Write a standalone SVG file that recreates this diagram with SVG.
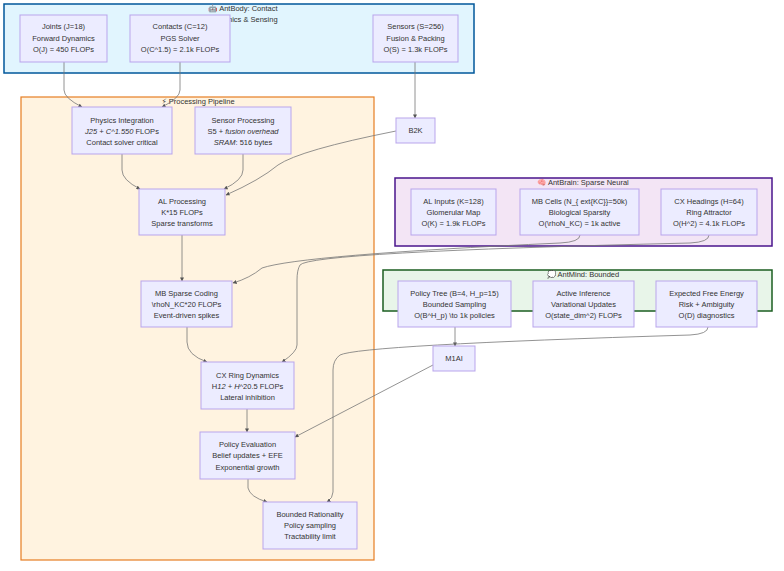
<svg xmlns="http://www.w3.org/2000/svg" width="784" height="571" viewBox="0 0 784 571">
<style>
text{font-family:"Liberation Sans","DejaVu Sans",sans-serif;font-size:7.5px;fill:#333;text-anchor:middle}
.n{fill:#ececff;stroke:#b9a5ec;stroke-width:1}
.e{fill:none;stroke:#777;stroke-width:0.8;marker-end:url(#a)}
i{font-style:italic}
</style>
<defs><marker id="a" viewBox="0 0 10 10" refX="9" refY="5" markerWidth="5" markerHeight="5" orient="auto"><path d="M0,0L10,5L0,10z" fill="#555"/></marker></defs>
<rect x="0" y="0" width="784" height="571" fill="#fff"/>
<g id="body"><rect x="4" y="4" width="470" height="69" fill="#e1f5fe" stroke="#01579b" stroke-width="1.5"/><text x="243" y="11">🤖 AntBody: Contact</text><text x="243" y="22">Dynamics &amp; Sensing</text></g>
<g id="pipeline"><rect x="21" y="97" width="353" height="463" fill="#fff3e0" stroke="#e67e22" stroke-width="1.2"/><text x="198" y="104">⚡ Processing Pipeline</text></g>
<g id="brain"><rect x="395" y="178" width="377" height="68" fill="#f3e5f5" stroke="#4a148c" stroke-width="1.5"/><text x="583" y="185">🧠 AntBrain: Sparse Neural</text></g>
<g id="mind"><rect x="383" y="270" width="389" height="41" fill="#e8f5e9" stroke="#1b5e20" stroke-width="1.5"/><text x="583" y="277">💭 AntMind: Bounded</text></g>
<g id="edges">
<path class="e" d="M64,62V90Q64,98 82,107"/>
<path class="e" d="M180,62V90Q180,98 162,107"/>
<path class="e" d="M415,62V118"/>
<path class="e" d="M396,131Q300,150 278,165Q260,180 226,195"/>
<path class="e" d="M122,154V170Q122,180 140,189"/>
<path class="e" d="M243,154V170Q243,180 224,189"/>
<path class="e" d="M182,235V281"/>
<path class="e" d="M580,235Q580,242 560,243Q300,255 262,268Q250,278 233,283"/>
<path class="e" d="M709,235Q709,242 690,243Q310,252 300,265Q297,270 297,280V345Q297,352 282,362"/>
<path class="e" d="M187,327V342Q187,355 207,362"/>
<path class="e" d="M247,409V432"/>
<path class="e" d="M455,327V346"/>
<path class="e" d="M433,365L295,437"/>
<path class="e" d="M708,327Q708,334 690,335Q360,345 340,355Q333,360 333,370V492Q333,498 327,502"/>
<path class="e" d="M248,479V488Q250,497 267,502"/>
</g>
<g id="joints"><rect class="n" x="20" y="15" width="87" height="47"/><text x="63.5" y="29">Joints (J=18)</text><text x="63.5" y="41">Forward Dynamics</text><text x="63.5" y="52">O(J) = 450 FLOPs</text></g>
<g id="contacts"><rect class="n" x="130" y="15" width="100" height="47"/><text x="180" y="29">Contacts (C=12)</text><text x="180" y="41">PGS Solver</text><text x="180" y="52">O(C^1.5) = 2.1k FLOPs</text></g>
<g id="sensors"><rect class="n" x="373" y="15" width="85" height="47"/><text x="415.5" y="29">Sensors (S=256)</text><text x="415.5" y="41">Fusion &amp; Packing</text><text x="415.5" y="52">O(S) = 1.3k FLOPs</text></g>
<g id="physics"><rect class="n" x="72" y="107" width="100" height="47"/><text x="122" y="123">Physics Integration</text><text x="122" y="134"><tspan font-style="italic">J25 + C^1.550</tspan> FLOPs</text><text x="122" y="145">Contact solver critical</text></g>
<g id="sensorproc"><rect class="n" x="195" y="107" width="96" height="47"/><text x="243" y="123">Sensor Processing</text><text x="243" y="134">S5 + <tspan font-style="italic">fusion overhead</tspan></text><text x="243" y="145"><tspan font-style="italic">SRAM</tspan>: 516 bytes</text></g>
<g id="b2k"><rect class="n" x="396" y="118" width="39" height="25"/><text x="415.5" y="133">B2K</text></g>
<g id="al"><rect class="n" x="139" y="189" width="86" height="46"/><text x="182" y="204">AL Processing</text><text x="182" y="215">K*15 FLOPs</text><text x="182" y="226">Sparse transforms</text></g>
<g id="mb"><rect class="n" x="141" y="281" width="91" height="46"/><text x="186.5" y="296">MB Sparse Coding</text><text x="186.5" y="307">\rhoN_KC*20 FLOPs</text><text x="186.5" y="318">Event-driven spikes</text></g>
<g id="cx"><rect class="n" x="201" y="362" width="93" height="47"/><text x="247.5" y="378">CX Ring Dynamics</text><text x="247.5" y="389">H<tspan font-style="italic">12 + H</tspan>^20.5 FLOPs</text><text x="247.5" y="400">Lateral inhibition</text></g>
<g id="policyeval"><rect class="n" x="200" y="432" width="95" height="47"/><text x="247.5" y="447">Policy Evaluation</text><text x="247.5" y="458">Belief updates + EFE</text><text x="247.5" y="470">Exponential growth</text></g>
<g id="bounded"><rect class="n" x="263" y="502" width="94" height="47"/><text x="310" y="517">Bounded Rationality</text><text x="310" y="528">Policy sampling</text><text x="310" y="539">Tractability limit</text></g>
<g id="alinputs"><rect class="n" x="411" y="189" width="85" height="46"/><text x="453.5" y="204">AL Inputs (K=128)</text><text x="453.5" y="215">Glomerular Map</text><text x="453.5" y="226">O(K) = 1.9k FLOPs</text></g>
<g id="mbcells"><rect class="n" x="520" y="189" width="119" height="46"/><text x="579.5" y="204">MB Cells (N_{ ext{KC}}=50k)</text><text x="579.5" y="215">Biological Sparsity</text><text x="579.5" y="226">O(\rhoN_KC) = 1k active</text></g>
<g id="cxh"><rect class="n" x="661" y="189" width="96" height="46"/><text x="709" y="204">CX Headings (H=64)</text><text x="709" y="215">Ring Attractor</text><text x="709" y="226">O(H^2) = 4.1k FLOPs</text></g>
<g id="policytree"><rect class="n" x="398" y="281" width="113" height="46"/><text x="454.5" y="296">Policy Tree (B=4, H_p=15)</text><text x="454.5" y="307">Bounded Sampling</text><text x="454.5" y="318">O(B^H_p) \to 1k policies</text></g>
<g id="ai"><rect class="n" x="533" y="281" width="101" height="46"/><text x="583.5" y="296">Active Inference</text><text x="583.5" y="307">Variational Updates</text><text x="583.5" y="318">O(state_dim^2) FLOPs</text></g>
<g id="efe"><rect class="n" x="656" y="281" width="101" height="46"/><text x="706.5" y="296">Expected Free Energy</text><text x="706.5" y="307">Risk + Ambiguity</text><text x="706.5" y="318">O(D) diagnostics</text></g>
<g id="m1ai"><rect class="n" x="433" y="346" width="42" height="25"/><text x="454" y="361">M1AI</text></g>
</svg>
